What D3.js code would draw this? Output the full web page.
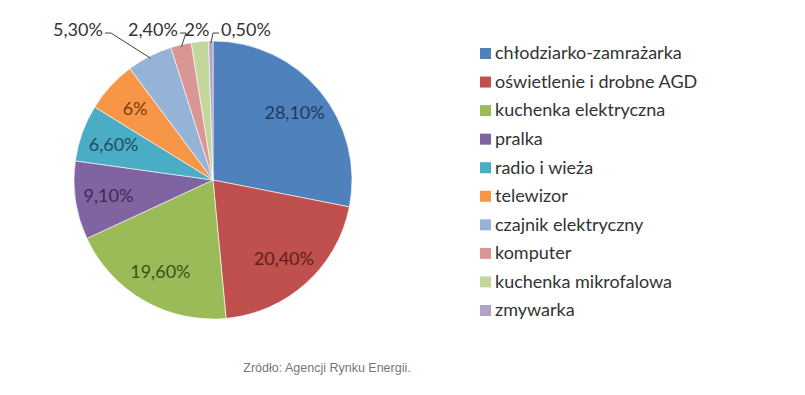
<!DOCTYPE html>
<html>
<head>
<meta charset="utf-8">
<script src="https://cdn.jsdelivr.net/npm/d3@7"></script>
<style>
  body { margin: 0; background: #fff; }
  svg { display: block; }
</style>
</head>
<body>
<div class="chart"></div>
<script>
// dane: zuzycie energii w gospodarstwie domowym
const kategorie = ['chłodziarko-zamrażarka', 'oświetlenie i drobne AGD', 'kuchenka elektryczna', 'pralka',
  'radio i wieża', 'telewizor', 'czajnik elektryczny', 'komputer', 'kuchenka mikrofalowa', 'zmywarka']
const wartosci = [28.1, 20.4, 19.6, 9.1, 6.6, 6, 5.3, 2.4, 2, 0.5]
const etykiety = ['28,10%', '20,40%', '19,60%', '9,10%', '6,60%', '6%', '5,30%', '2,40%', '2%', '0,50%']
const zrodlo = 'Zródło: Agencji Rynku Energii.'

const kolory = ['#4f81bd', '#c0504d', '#9bbb59', '#8064a2', '#4bacc6', '#f79646', '#95b3d7', '#d99694', '#c3d69b', '#b3a2c7']
const ciemne = ['#1f3a60', '#5e1f1d', '#3d5019', '#3a2a52', '#1d4f5e', '#7a3a0a', '#333', '#333', '#333', '#333']

const width = 805
const height = 395
const cx = 213, cy = 180, r = 139
const font = 'Lato, "Open Sans", sans-serif'

let svg = d3.select('.chart')
  .append('svg')
  .attr('width', width)
  .attr('height', height)

let pie = d3.pie().sort(null).value(d => d)
let arcs = pie(wartosci)
let arc = d3.arc().innerRadius(0).outerRadius(r)

let g = svg.append('g').attr('transform', `translate(${cx},${cy})`)

g.selectAll('path')
  .data(arcs)
  .enter()
  .append('path')
  .attr('d', arc)
  .attr('fill', (d, i) => kolory[i])
  .attr('stroke', '#fff')
  .attr('stroke-width', 0.6)

// etykiety wewnatrz (duze wycinki)
let labelArc = d3.arc().innerRadius(r * 0.76).outerRadius(r * 0.76)
g.selectAll('text.in')
  .data(arcs.filter(d => d.value >= 6))
  .enter()
  .append('text')
  .attr('class', 'in')
  .attr('x', d => labelArc.centroid(d)[0])
  .attr('y', d => labelArc.centroid(d)[1])
  .attr('dy', '0.35em')
  .attr('text-anchor', 'middle')
  .attr('font-family', font)
  .attr('font-size', 18)
  .attr('fill', d => ciemne[d.index])
  .text(d => etykiety[d.index])

// etykiety zewnetrzne z liniami
const zewX = [-135, -60, -16, 33]   // srodek tekstu wzgledem srodka kola
const labelY = -150
let male = arcs.filter(d => d.value < 6)
let edge = d3.arc().innerRadius(r - 2).outerRadius(r - 2)

male.forEach((d, k) => {
  let p = edge.centroid(d)
  let tx = zewX[k]
  let t = g.append('text')
    .attr('x', tx)
    .attr('y', labelY)
    .attr('dy', '0.35em')
    .attr('text-anchor', 'middle')
    .attr('font-family', font)
    .attr('font-size', 18)
    .attr('fill', '#333')
    .text(etykiety[d.index])
  let w = t.node().getComputedTextLength()
  if (Math.abs(p[0] - tx) < w / 2) return
  let side = p[0] > tx ? 1 : -1
  let ex = tx + side * (w / 2 + 2)
  let pts = [[ex, labelY + 3], [ex + side * 6, labelY + 3], p]
  g.append('path')
    .attr('d', d3.line()(pts))
    .attr('fill', 'none')
    .attr('stroke', '#404040')
    .attr('stroke-width', 1)
})

// legenda
let y = d3.scalePoint().domain(kategorie).range([53, 310])
let leg = svg.append('g')
leg.selectAll('rect')
  .data(kategorie)
  .enter()
  .append('rect')
  .attr('x', 480)
  .attr('y', d => y(d) - 5)
  .attr('width', 11)
  .attr('height', 11)
  .attr('fill', (d, i) => kolory[i])
leg.selectAll('text')
  .data(kategorie)
  .enter()
  .append('text')
  .attr('x', 495)
  .attr('y', d => y(d))
  .attr('dy', '0.35em')
  .attr('font-family', font)
  .attr('font-size', 18)
  .attr('fill', '#333')
  .text(d => d)

svg.append('text')
  .attr('x', 327)
  .attr('y', 372)
  .attr('text-anchor', 'middle')
  .attr('font-family', 'Liberation Sans, Arial, sans-serif')
  .attr('font-size', 12.5)
  .attr('fill', '#777')
  .text(zrodlo)
</script>
</body>
</html>
